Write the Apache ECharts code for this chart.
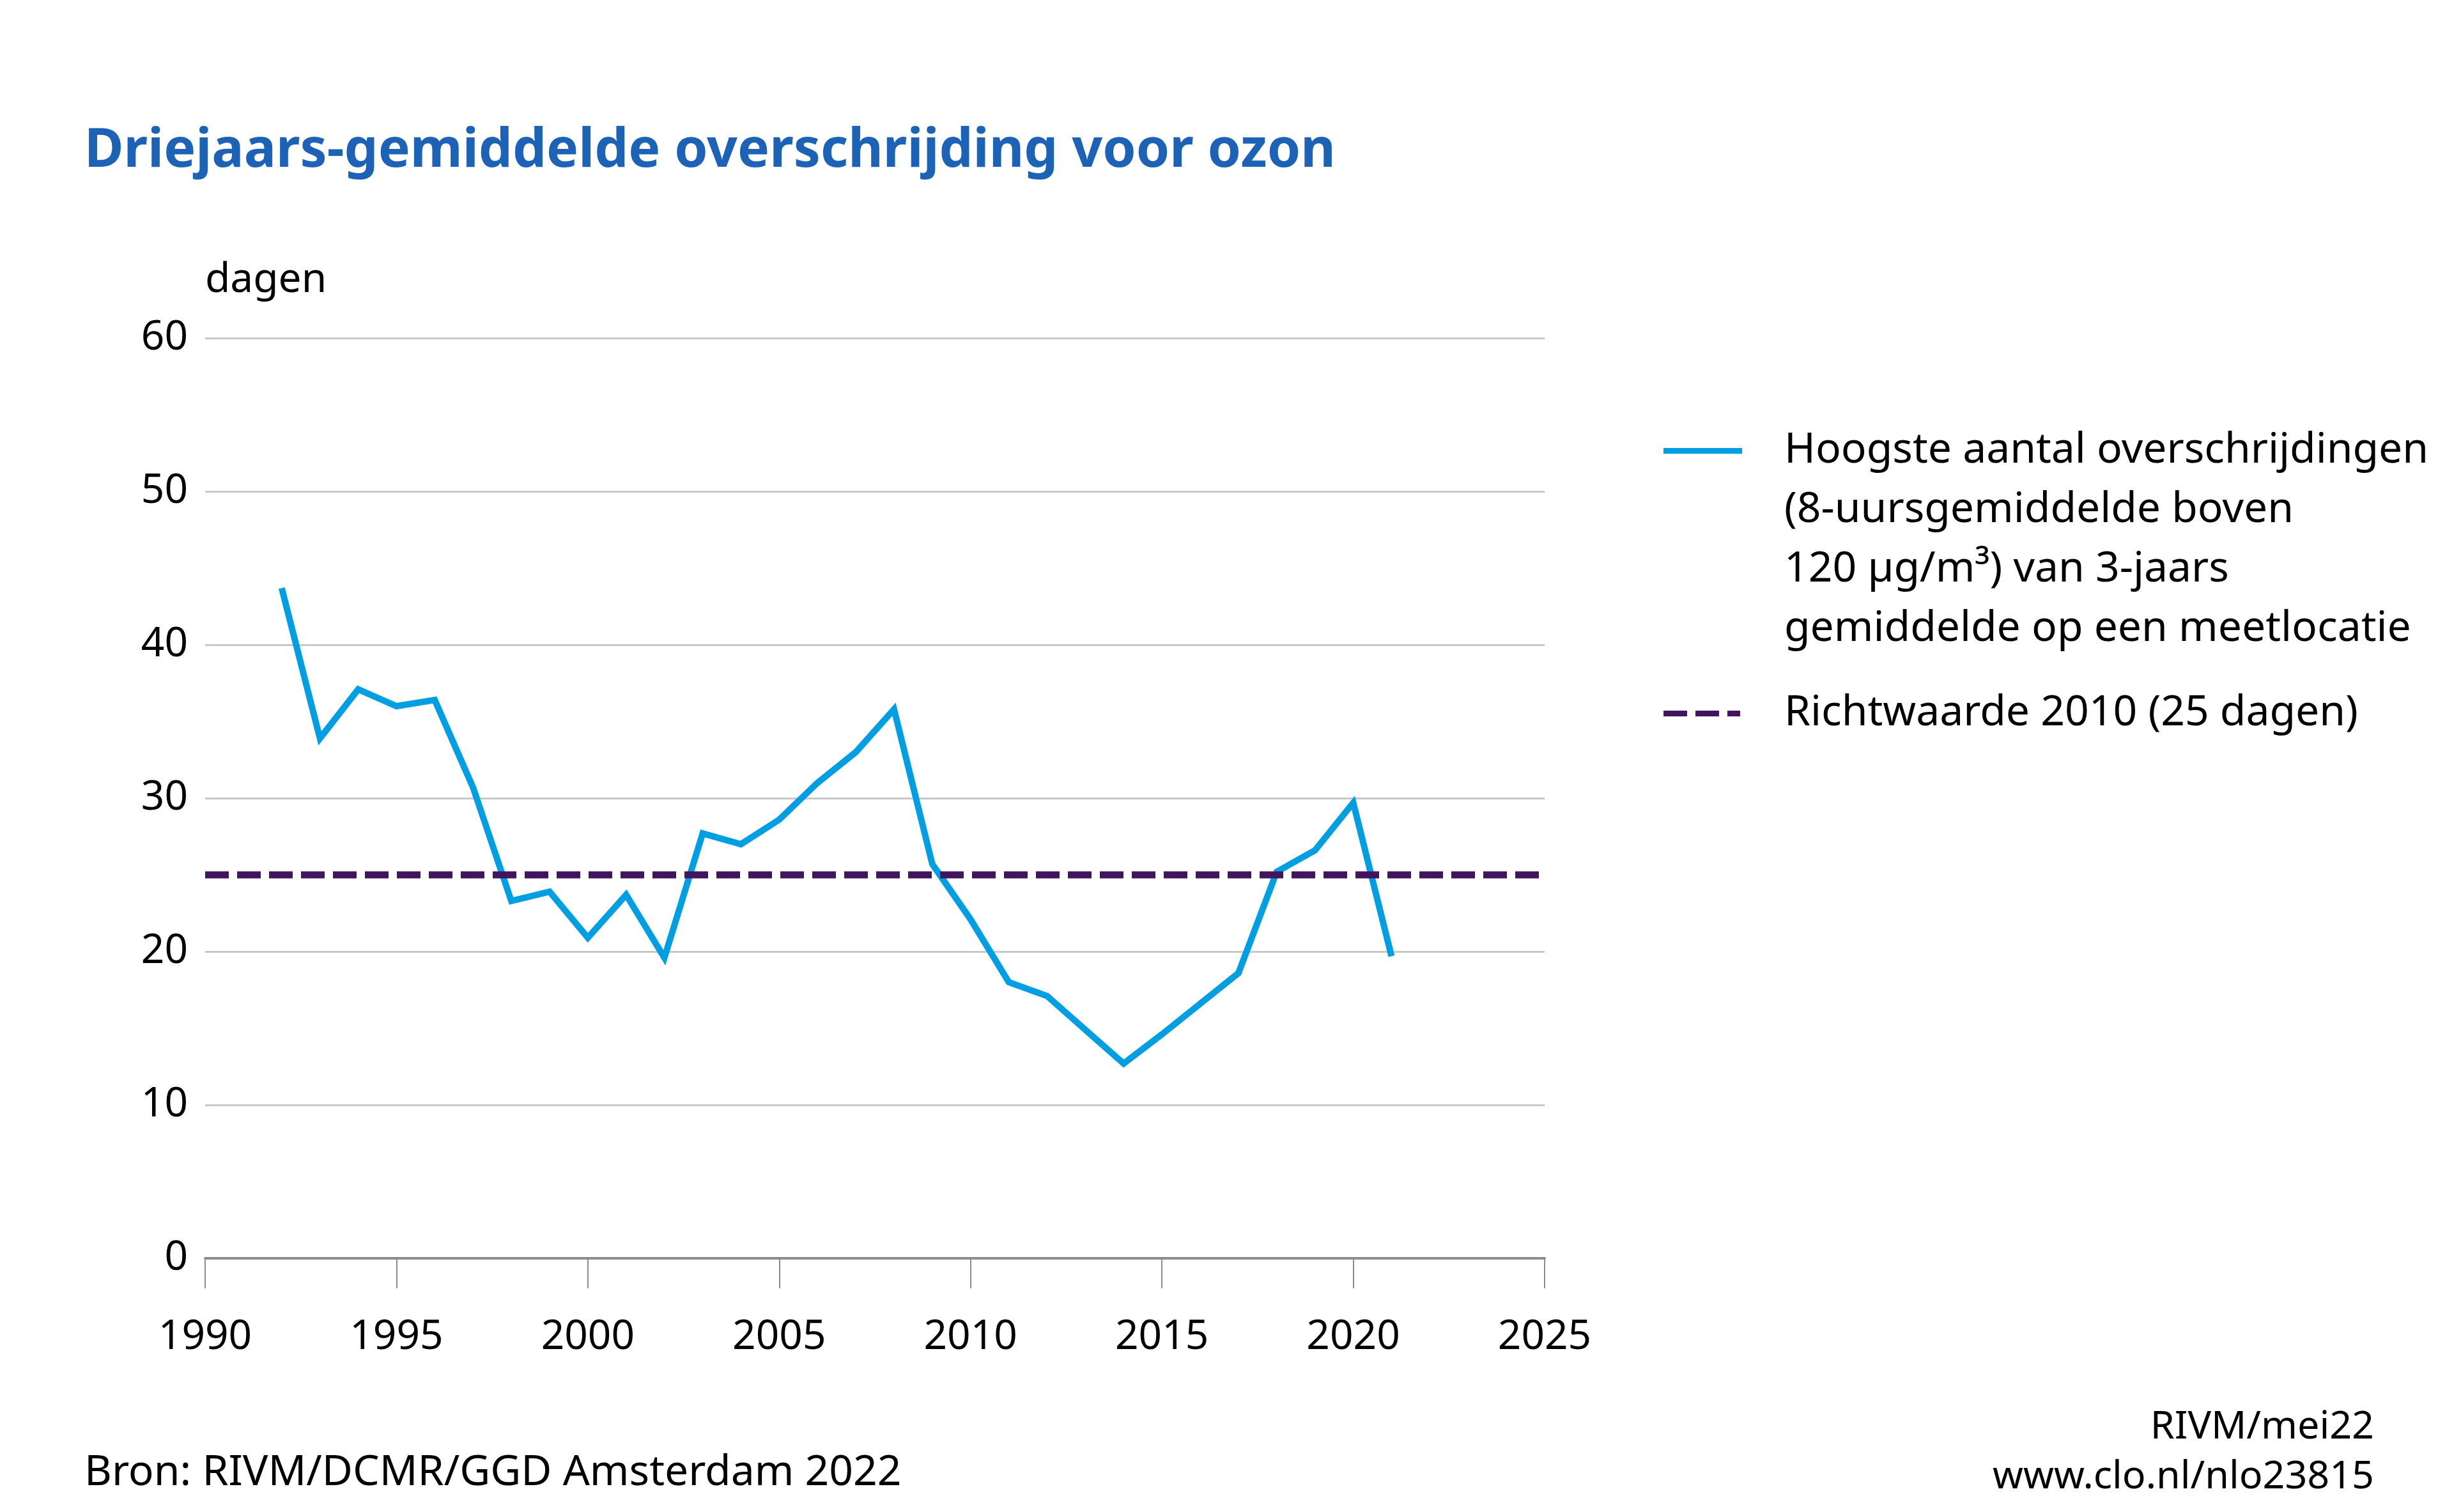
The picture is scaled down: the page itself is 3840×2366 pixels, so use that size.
<!DOCTYPE html>
<html>
<head>
<meta charset="utf-8">
<script src="https://cdn.jsdelivr.net/npm/echarts@6/dist/echarts.min.js"></script>
<style>
  html, body { margin: 0; padding: 0; background: #fff; }
  #chart { width: 3840px; height: 2366px; }
</style>
</head>
<body>
<div id="chart"></div>
<script>
const years = [1992, 1993, 1994, 1995, 1996, 1997, 1998, 1999, 2000, 2001,
  2002, 2003, 2004, 2005, 2006, 2007, 2008, 2009, 2010, 2011,
  2012, 2013, 2014, 2015, 2016, 2017, 2018, 2019, 2020, 2021];
const exceedances = [43.7, 33.9, 37.1, 36.0, 36.4, 30.7, 23.3, 23.9, 20.9, 23.7,
  19.6, 27.7, 27.0, 28.6, 31.0, 33.0, 35.8, 25.7, 22.1, 18.0,
  17.1, 14.9, 12.7, 14.6, 16.6, 18.6, 25.2, 26.6, 29.7, 19.7];
const guideYears = [1990, 2025];
const guideValues = [25, 25];

const lineName = 'Hoogste aantal overschrijdingen\n(8-uursgemiddelde boven\n120 µg/m³) van 3-jaars\ngemiddelde op een meetlocatie';
const guideName = 'Richtwaarde 2010 (25 dagen)';

const FONT = '"Noto Sans", sans-serif';
const BLUE = '#009fe3';
const PURPLE = '#42145f';

// legend icons: invisible corner points fix the box so the bar sits at the first text line
const lineIcon = 'path://M0,0L0.01,0M0,42L123,42L123,51L0,51ZM184,372L184.01,372';
const dashIcon = 'path://M0,0L0.01,0M0,42L37,42L37,51L0,51ZM50,42L87,42L87,51L50,51ZM100,42L120,42L120,51L100,51ZM184,93L184.01,93';

const chartDom = document.getElementById('chart');
const myChart = echarts.init(chartDom);

const footStyle = { fontFamily: FONT, fontSize: 61, fontWeight: 'normal', color: '#000', lineHeight: 78 };

const option = {
  animation: false,
  backgroundColor: '#fff',
  title: [
    {
      text: 'Driejaars-gemiddelde overschrijding voor ozon',
      left: 132,
      top: 187,
      padding: 0,
      textStyle: { fontFamily: FONT, fontSize: 84, fontWeight: 'bold', color: '#1c63b7', lineHeight: 100 },
    },
    {
      text: 'Bron: RIVM/DCMR/GGD Amsterdam 2022',
      left: 132,
      top: 2266,
      padding: 0,
      textStyle: { ...footStyle, fontSize: 66 },
    },
    {
      text: 'RIVM/mei22',
      right: 125,
      top: 2195,
      padding: 0,
      textStyle: footStyle,
    },
    {
      text: 'www.clo.nl/nlo23815',
      right: 125,
      top: 2273,
      padding: 0,
      textStyle: footStyle,
    },
  ],
  legend: [
    {
      left: 2603,
      top: 659,
      padding: 0,
      itemWidth: 184,
      itemHeight: 372,
      selectedMode: false,
      itemStyle: { borderWidth: 0 },
      textStyle: { fontFamily: FONT, fontSize: 66, color: '#000', lineHeight: 93 },
      data: [{ name: lineName, icon: lineIcon, itemStyle: { color: BLUE, borderWidth: 0 } }],
    },
    {
      left: 2603,
      top: 1070,
      padding: 0,
      itemWidth: 184,
      itemHeight: 93,
      selectedMode: false,
      itemStyle: { borderWidth: 0 },
      textStyle: { fontFamily: FONT, fontSize: 66, color: '#000', lineHeight: 93 },
      data: [{ name: guideName, icon: dashIcon, itemStyle: { color: PURPLE, borderWidth: 0 } }],
    },
  ],
  grid: {
    left: 321,
    right: 1423,
    top: 529,
    bottom: 397,
    containLabel: false,
    outerBoundsMode: 'none',
  },
  xAxis: {
    type: 'value',
    min: 1990,
    max: 2025,
    interval: 5,
    axisLine: { show: true, lineStyle: { color: '#8c8c8c', width: 4 } },
    axisTick: { show: true, length: 47, lineStyle: { color: '#8c8c8c', width: 2 } },
    splitLine: { show: false },
    axisLabel: {
      fontFamily: FONT, fontSize: 64, color: '#000', margin: 92,
      formatter: (v) => String(v),
    },
  },
  yAxis: {
    type: 'value',
    min: 0,
    max: 60,
    interval: 10,
    name: 'dagen',
    nameLocation: 'end',
    nameGap: 90,
    nameTextStyle: { fontFamily: FONT, fontSize: 64, color: '#000', align: 'left', verticalAlign: 'middle' },
    axisLine: { show: false },
    axisTick: { show: false },
    splitLine: { show: true, lineStyle: { color: '#c8c8c8', width: 3 } },
    axisLabel: { fontFamily: FONT, fontSize: 64, color: '#000', margin: 27 },
  },
  series: [
    {
      name: lineName,
      type: 'line',
      data: years.map((y, i) => [y, exceedances[i]]),
      showSymbol: false,
      color: BLUE,
      lineStyle: { color: BLUE, width: 10, cap: 'butt', join: 'miter' },
      z: 2,
    },
    {
      name: guideName,
      type: 'line',
      data: guideYears.map((y, i) => [y, guideValues[i]]),
      showSymbol: false,
      color: PURPLE,
      lineStyle: { color: PURPLE, width: 11, type: [37, 13], cap: 'butt' },
      z: 3,
    },
  ],
};

myChart.setOption(option);

window.addEventListener('resize', function () {
  myChart.resize();
});
</script>
</body>
</html>
